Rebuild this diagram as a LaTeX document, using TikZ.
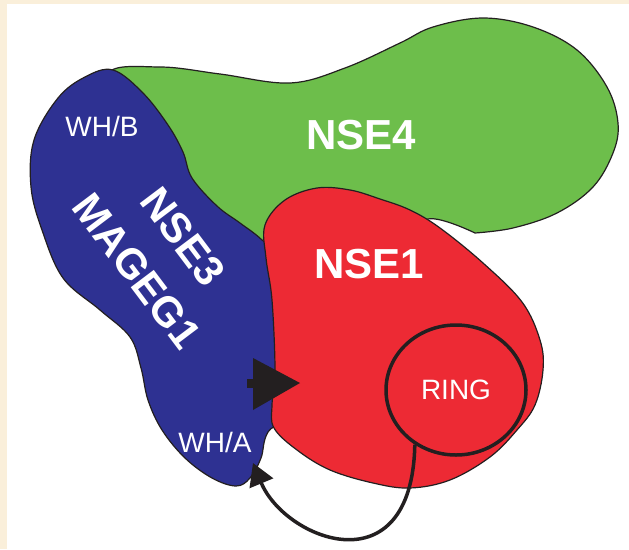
\documentclass[tikz,border=0pt]{standalone}
\usepackage{fontspec}
\setmainfont{Liberation Sans}
\usetikzlibrary{shapes.geometric,arrows.meta}
\definecolor{cream}{RGB}{250,239,218}
\definecolor{gfill}{RGB}{109,190,75}
\definecolor{rfill}{RGB}{237,42,52}
\definecolor{bfill}{RGB}{46,49,146}
\definecolor{outl}{RGB}{35,31,32}
\begin{document}
\begin{tikzpicture}[x=1pt,y=-1pt,
  blob/.style={draw=outl,line width=1.2pt,line join=round},
  big/.style={text=white,inner sep=0pt,font=\fontsize{42pt}{50pt}\selectfont\bfseries},
  small/.style={text=white,inner sep=0pt,font=\fontsize{28pt}{32pt}\selectfont}]
\useasboundingbox (0,0) rectangle (629,549);
\fill[white] (0,0) rectangle (629,549);
\fill[cream] (0,0) rectangle (629,4);
\fill[cream] (0,0) rectangle (7,549);
% NSE4 (green)
\filldraw[blob,fill=gfill] plot[smooth,tension=0.6] coordinates {(475,233) (428,219) (400,250) (320,285) (215,250) (130,130) (108,74) (160,67) (220,74) (290,83) (345,68) (400,43) (433,27) (483,18) (533,27) (577,50) (607,87) (618,123) (613,153) (593,187) (557,213) (513,228) (475,233)} -- cycle;
% NSE3/MAGEG1 (blue)
\filldraw[blob,fill=bfill] plot[smooth cycle,tension=0.6] coordinates {(113,70) (143,93) (168,125) (183,152) (192,178) (217,206) (240,223) (262,240) (290,270) (295,400) (268,432) (261,458) (250,478) (236,486) (212,478) (185,458) (162,430) (148,400) (141,368) (130,337) (100,310) (63,278) (42,230) (31,187) (34,140) (58,98) (85,77)};
% NSE1 (red)
\filldraw[blob,fill=rfill] plot[smooth cycle,tension=0.6] coordinates {(317,188) (350,190) (380,199) (410,210) (440,228) (483,263) (522,302) (540,340) (543,370) (535,405) (517,430) (490,457) (450,480) (410,488) (373,483) (330,470) (297,450) (274,428) (272,405) (275,370) (272,300) (266,258) (265,225) (285,200)};
% labels
\node[big] (nse4) at (361,135) {NSE4};
\node[big] (nse1) at (369,264) {NSE1};
\node[big,rotate=-53,align=center] (nse3) at (160,254) {NSE3\\[7pt]MAGEG1};
\node[small] (whb) at (102,126) {WH/B};
\node[small] (wha) at (215,442) {WH/A};
\node[small,draw=outl,ellipse,line width=3.5pt,minimum width=140pt,minimum height=130pt] (ring) at (456,390) {RING};
% big arrowhead
\fill[outl] (253,358) -- (300,383) -- (253,410) -- cycle;
\fill[outl] (247,379) rectangle (254,388);
% curved arrow from RING to WH/A
\coordinate (whaEnd) at (253,463);
\draw[outl,line width=3.5pt,-{Triangle[length=22pt,width=25pt]}] (ring.233) .. controls (412,590) and (285,540) .. (whaEnd);
\end{tikzpicture}
\end{document}
